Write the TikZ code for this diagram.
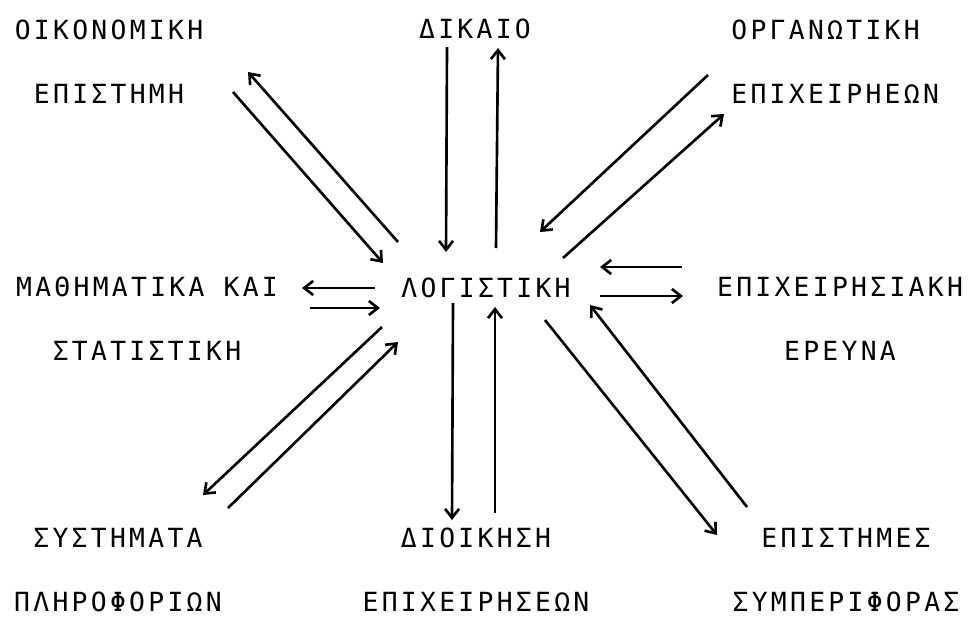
\documentclass[tikz,border=0pt]{standalone}
\usepackage{fontspec}
\usetikzlibrary{arrows.meta}
\newfontfamily\plotfont{DejaVu Sans Mono}[LetterSpace=12.5]
\tikzset{
  field/.style={font=\plotfont\fontsize{15pt}{36.6pt}\selectfont, inner sep=0pt, align=center},
  lowfield/.style={field, text depth=0pt, anchor=south},
  flow/.style={->, line width=1.5pt},
  >={Straight Barb[length=1.8mm,width=2.8mm]}
}
\begin{document}
\begin{tikzpicture}[x=0.2mm, y=-0.2mm]
    \useasboundingbox (0,0) rectangle (970,617);
    % fields round accounting
    \node [field] (log) at (486,288) {ΛΟΓΙΣΤΙΚΗ};
    \node [field] (oik) at (109,62) {ΟΙΚΟΝΟΜΙΚΗ\\ΕΠΙΣΤΗΜΗ};
    \node [field] (dik) at (475,29) {ΔΙΚΑΙΟ};
    \node [field, anchor=west, align=left] (org) at (731,62) {ΟΡΓΑΝΩΤΙΚΗ\\ΕΠΙΧΕΙΡΗΕΩΝ};
    \node [field] (math) at (147,319) {ΜΑΘΗΜΑΤΙΚΑ ΚΑΙ\\ΣΤΑΤΙΣΤΙΚΗ};
    \node [field] (ere) at (840,319) {ΕΠΙΧΕΙΡΗΣΙΑΚΗ\\ΕΡΕΥΝΑ};
    \node [lowfield] (sys) at (118,612) {ΣΥΣΤΗΜΑΤΑ\\ΠΛΗΡΟΦΟΡΙΩΝ};
    \node [lowfield] (dio) at (476,612) {ΔΙΟΙΚΗΣΗ\\ΕΠΙΧΕΙΡΗΣΕΩΝ};
    \node [lowfield] (sym) at (846,612) {ΕΠΙΣΤΗΜΕΣ\\ΣΥΜΠΕΡΙΦΟΡΑΣ};
    % arrow ends
    \coordinate (oikA) at (233,92);  \coordinate (logA) at (383,263);
    \coordinate (logB) at (398,242); \coordinate (oikB) at (248,72);
    \coordinate (dikA) at (447,47);  \coordinate (logC) at (446,252);
    \coordinate (logD) at (496,248); \coordinate (dikB) at (498,48);
    \coordinate (orgA) at (708,75);  \coordinate (logE) at (540,232);
    \coordinate (logF) at (563,258); \coordinate (orgB) at (724,114);
    \coordinate (logG) at (375,288); \coordinate (mathA) at (302,288);
    \coordinate (mathB) at (310,308); \coordinate (logH) at (380,308);
    \coordinate (ereA) at (682,267); \coordinate (logI) at (600,267);
    \coordinate (logJ) at (600,296); \coordinate (ereB) at (683,296);
    \coordinate (logK) at (382,327); \coordinate (sysA) at (203,495);
    \coordinate (sysB) at (228,508); \coordinate (logL) at (398,342);
    \coordinate (logM) at (453,303); \coordinate (dioA) at (452,520);
    \coordinate (dioB) at (495,513); \coordinate (logN) at (495,307);
    \coordinate (logO) at (545,320); \coordinate (symA) at (717,535);
    \coordinate (symB) at (747,507); \coordinate (logP) at (590,305);
    % two-way links
    \draw [flow] (oikA) -- (logA);
    \draw [flow] (logB) -- (oikB);
    \draw [flow] (dikA) -- (logC);
    \draw [flow] (logD) -- (dikB);
    \draw [flow] (orgA) -- (logE);
    \draw [flow] (logF) -- (orgB);
    \draw [flow] (logG) -- (mathA);
    \draw [flow] (mathB) -- (logH);
    \draw [flow] (ereA) -- (logI);
    \draw [flow] (logJ) -- (ereB);
    \draw [flow] (logK) -- (sysA);
    \draw [flow] (sysB) -- (logL);
    \draw [flow] (logM) -- (dioA);
    \draw [flow] (dioB) -- (logN);
    \draw [flow] (logO) -- (symA);
    \draw [flow] (symB) -- (logP);
\end{tikzpicture}
\end{document}
